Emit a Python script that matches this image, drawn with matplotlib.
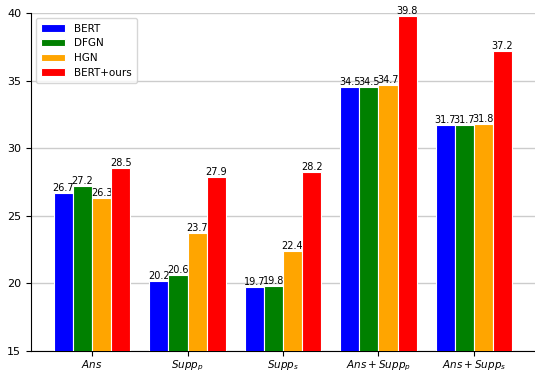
import numpy as np
import matplotlib
matplotlib.use("Agg")
import matplotlib.pyplot as plt

categories = ["$Ans$", "$Supp_p$", "$Supp_s$", "$Ans+Supp_p$", "$Ans+Supp_s$"]
series = ["BERT", "DFGN", "HGN", "BERT+ours"]
bert = [26.7, 20.2, 19.7, 34.5, 31.7]
dfgn = [27.2, 20.6, 19.8, 34.5, 31.7]
hgn = [26.3, 23.7, 22.4, 34.7, 31.8]
ours = [28.5, 27.9, 28.2, 39.8, 37.2]
colors = ["blue", "green", "orange", "red"]

fig = plt.figure(figsize=(5.35, 3.74), dpi=100)
ax = fig.add_axes([0.058, 0.062, 0.942, 0.903])

x = np.arange(len(categories))
width = 0.2
for i, (name, vals) in enumerate(zip(series, [bert, dfgn, hgn, ours])):
    bars = ax.bar(x + (i - 1.5) * width, vals, width, label=name,
                  color=colors[i], edgecolor="white", linewidth=0.8, zorder=3)
    ax.bar_label(bars, labels=["%.1f" % v for v in vals], fontsize=7, padding=0)

ax.set_ylim(15, 40)
ax.set_yticks([15, 20, 25, 30, 35, 40])
ax.set_xticks(x)
ax.set_xticklabels(categories)
ax.tick_params(axis="y", labelsize=8)
ax.tick_params(axis="x", labelsize=7.5, pad=2)
ax.yaxis.grid(True, color="#cccccc", linewidth=1, zorder=0)
ax.spines["top"].set_visible(False)
ax.spines["right"].set_visible(False)
ax.legend(loc="upper left", fontsize=7.5, borderpad=0.5, labelspacing=0.45,
          handlelength=2.3)

fig.savefig("out.png", dpi=100)
